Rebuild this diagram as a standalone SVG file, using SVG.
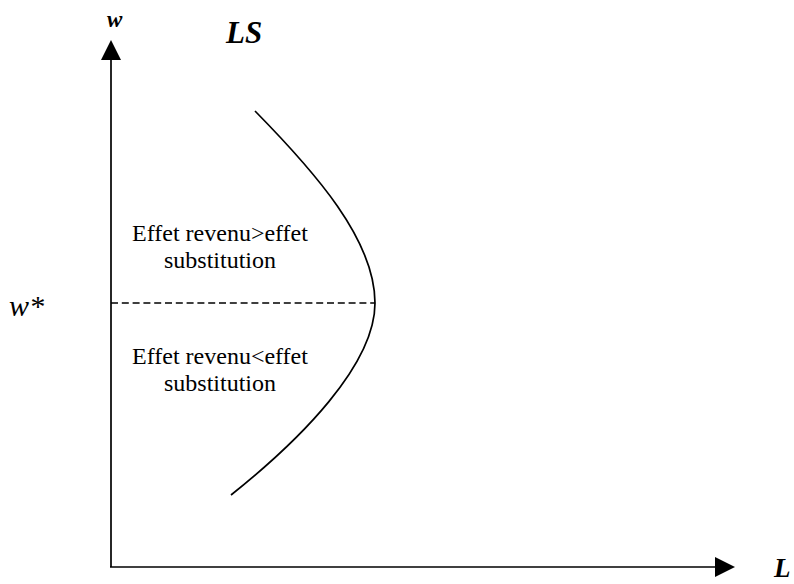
<svg xmlns="http://www.w3.org/2000/svg" width="794" height="584" viewBox="0 0 794 584">
<style>
.ax{stroke:#000;stroke-width:1.7;fill:none}
.crv{stroke:#000;stroke-width:1.7;fill:none}
.dash{stroke:#000;stroke-width:1.6;fill:none;stroke-dasharray:7 3.8}
.lbl{font-family:"Liberation Serif","Times New Roman",serif;fill:#000}
.bi{font-weight:bold;font-style:italic}
.it{font-style:italic}
.txt{font-size:24px;text-anchor:middle}
</style>
<rect width="794" height="584" fill="#fff"/>
<g id="connectors">
<line class="ax" x1="111" y1="567" x2="111" y2="58"/>
<polygon points="111,40 101,60 121,60" fill="#000"/>
<line class="ax" x1="110" y1="567" x2="717" y2="567"/>
<polygon points="735,567 715,557 715,577" fill="#000"/>
<line class="dash" x1="111" y1="303" x2="375" y2="303"/>
<path class="crv" d="M255,111 C315,172 375,240 375,303 C375,365 300,440 231,495"/>
</g>
<g id="label-w"><text class="lbl bi" x="107" y="27" font-size="23">w</text></g>
<g id="label-LS"><text class="lbl bi" x="226" y="43" font-size="31">LS</text></g>
<g id="label-wstar"><text class="lbl it" x="9" y="316" font-size="30">w*</text></g>
<g id="label-L"><text class="lbl bi" x="774" y="577" font-size="27">L</text></g>
<g id="text-upper"><text class="lbl txt" x="220" y="241">Effet revenu&gt;effet</text><text class="lbl txt" x="220" y="268">substitution</text></g>
<g id="text-lower"><text class="lbl txt" x="220" y="364">Effet revenu&lt;effet</text><text class="lbl txt" x="220" y="391">substitution</text></g>
</svg>
